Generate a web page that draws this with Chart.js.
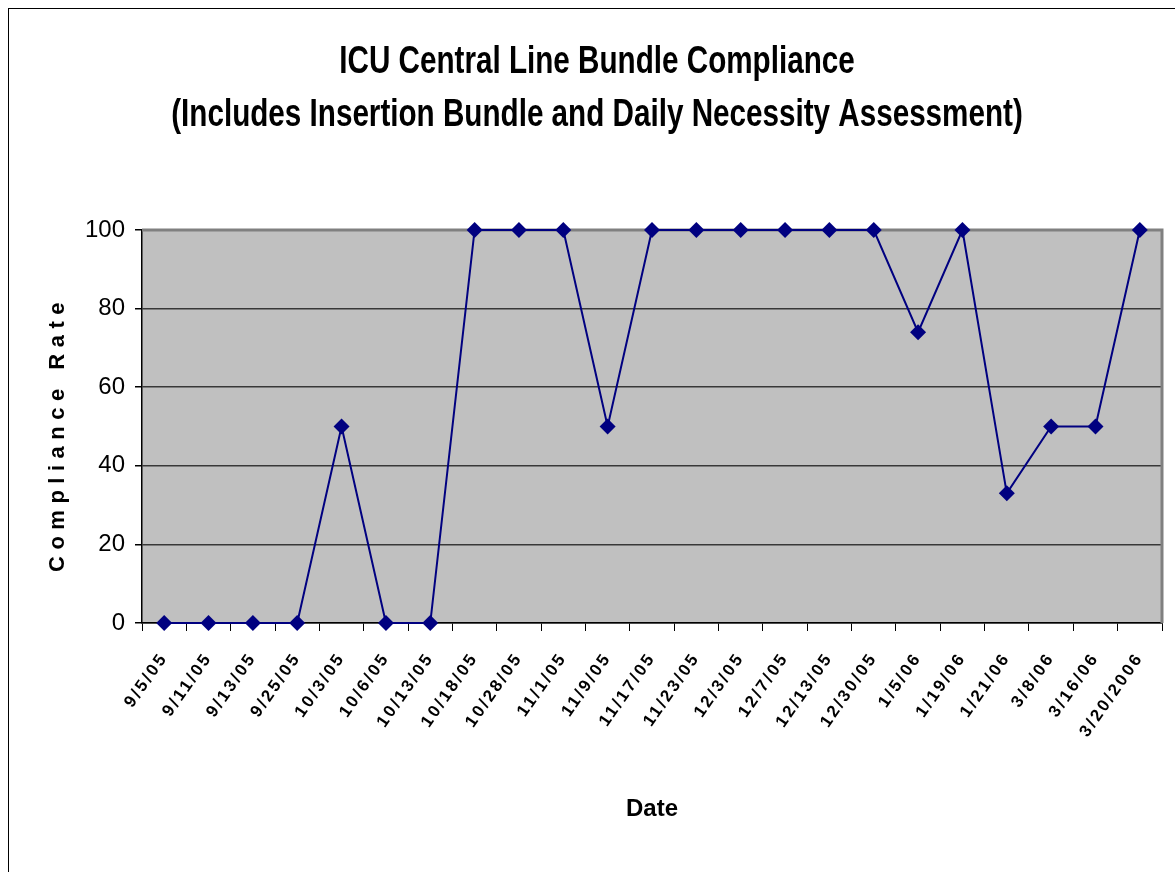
<!DOCTYPE html>
<html>
<head>
<meta charset="utf-8">
<script src="https://cdn.jsdelivr.net/npm/chart.js@4.4.1/dist/chart.umd.min.js"></script>
<style>
html,body{margin:0;padding:0;background:#fff;}
#wrap{width:1175px;height:872px;position:relative;}
</style>
</head>
<body>
<div id="wrap"><canvas id="c" width="1175" height="872"></canvas></div>
<script>
const titleLines = ['ICU Central Line Bundle Compliance', '(Includes Insertion Bundle and Daily Necessity Assessment)'];
const dates = ['9/5/05','9/11/05','9/13/05','9/25/05','10/3/05','10/6/05','10/13/05','10/18/05','10/28/05','11/1/05','11/9/05','11/17/05','11/23/05','12/3/05','12/7/05','12/13/05','12/30/05','1/5/06','1/19/06','1/21/06','3/8/06','3/16/06','3/20/2006'];
const compliance = [0,0,0,0,50,0,0,100,100,100,50,100,100,100,100,100,100,74,100,33,50,50,100];
const yTicks = [0,20,40,60,80,100];
const yTitle = 'Compliance Rate';
const xTitle = 'Date';

const FONT2 = "'Liberation Sans',Arial,sans-serif";

const framePlugin = {
  id: 'frame',
  beforeDraw(chart) {
    const ctx = chart.ctx, a = chart.chartArea;
    ctx.save();
    ctx.fillStyle = '#fff';
    ctx.fillRect(0, 0, chart.width, chart.height);
    ctx.strokeStyle = '#000';
    ctx.lineWidth = 1;
    ctx.strokeRect(8.5, 8.5, chart.width + 20, chart.height + 20);
    ctx.fillStyle = '#c0c0c0';
    ctx.fillRect(a.left, a.top, a.right - a.left, a.bottom - a.top);
    // condensed title
    ctx.fillStyle = '#000';
    ctx.font = 'bold 38px ' + FONT2;
    ctx.textAlign = 'center';
    ctx.textBaseline = 'middle';
    const cx = 597;
    [63, 116].forEach((y, i) => {
      ctx.save();
      ctx.translate(cx, y);
      ctx.scale(0.78, 1);
      ctx.fillText(titleLines[i], 0, 0);
      ctx.restore();
    });
    ctx.restore();
  },
  beforeDatasetsDraw(chart) {
    const ctx = chart.ctx, a = chart.chartArea;
    ctx.save();
    ctx.strokeStyle = '#808080';
    ctx.lineWidth = 3;
    ctx.beginPath();
    ctx.moveTo(a.left, a.top);
    ctx.lineTo(a.right, a.top);
    ctx.lineTo(a.right, a.bottom);
    ctx.stroke();
    // y-axis title with letter spacing
    ctx.fillStyle = '#000';
    ctx.font = "bold 22px " + FONT2;
    ctx.letterSpacing = '6.5px';
    ctx.textAlign = 'center';
    ctx.textBaseline = 'middle';
    ctx.translate(58, 434);
    ctx.rotate(-Math.PI / 2);
    ctx.fillText(yTitle, 0, 0);
    ctx.restore();
  }
};

new Chart(document.getElementById('c'), {
  type: 'line',
  data: {
    labels: dates,
    datasets: [{
      data: compliance,
      borderColor: '#000080',
      backgroundColor: '#000080',
      borderWidth: 2,
      pointStyle: 'rectRot',
      pointRadius: 8,
      pointHoverRadius: 8,
      pointBorderWidth: 0,
      tension: 0,
      clip: false
    }]
  },
  options: {
    responsive: false,
    animation: false,
    devicePixelRatio: 1,
    layout: { padding: { top: 230, left: 20, right: 13, bottom: 10 } },
    plugins: {
      legend: { display: false },
      tooltip: { enabled: false },
      title: { display: false }
    },
    scales: {
      y: {
        min: 0, max: 100,
        afterFit(s) { s.width = 122; },
        afterBuildTicks(s) { s.ticks = yTicks.map(v => ({ value: v })); },
        ticks: { color: '#000', font: { family: FONT2, size: 24 }, padding: 10 },
        grid: {
          color: (c) => c.tick && c.tick.value === 100 ? 'rgba(0,0,0,0)' : '#383838',
          lineWidth: 1.5,
          tickLength: 7,
          tickColor: '#000'
        },
        border: { color: '#000', width: 1.5 }
      },
      x: {
        offset: true,
        afterFit(s) {
          s.height = 239;
          if (!s._lsPatched) {
            const orig = s.drawLabels.bind(s);
            s.drawLabels = function (area) {
              const ctx = this.ctx;
              ctx.save();
              ctx.letterSpacing = '2.5px';
              orig(area);
              ctx.restore();
            };
            s._lsPatched = true;
          }
        },
        ticks: { color: '#000', font: { family: FONT2, size: 17, weight: 'bold' }, maxRotation: 55, minRotation: 55, autoSkip: false, padding: 18 },
        grid: { drawOnChartArea: false, tickLength: 8, color: '#000', offset: true },
        border: { color: '#000', width: 1.5 },
        title: { display: true, text: xTitle, color: '#000', font: { family: FONT2, size: 24, weight: 'bold' }, padding: { top: 0, bottom: 38 } }
      }
    }
  },
  plugins: [framePlugin]
});
</script>
</body>
</html>
